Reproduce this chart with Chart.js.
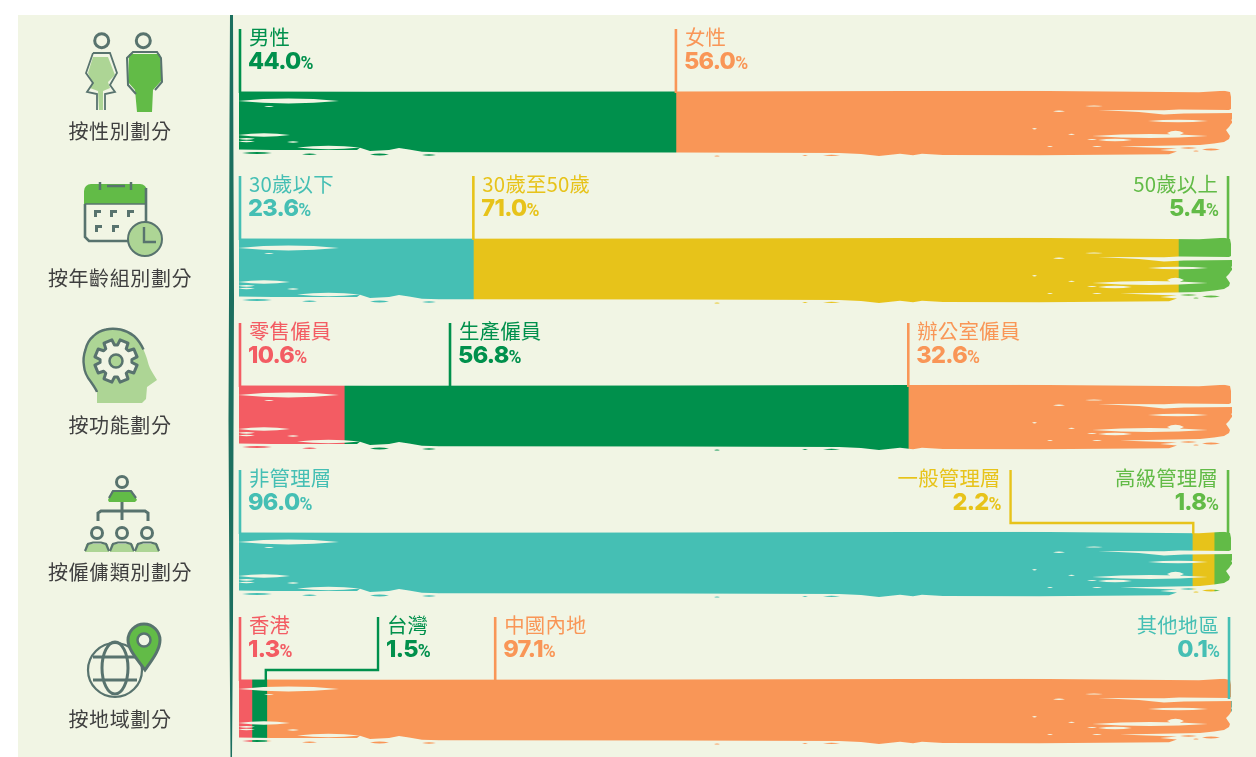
<!DOCTYPE html>
<html lang="zh-Hant">
<head>
<meta charset="UTF-8">
<title>按類別劃分員工</title>
<script src="https://cdnjs.cloudflare.com/ajax/libs/Chart.js/4.4.1/chart.umd.min.js"></script>
<style>
    html, body { margin: 0; padding: 0; background: #fff; overflow: hidden; height: 757px; }
    #panel { position: absolute; left: 18px; top: 15px; width: 1238px; height: 742px; background: #f1f5e4; }
    #myChart { position: absolute; left: 0; top: 0; }
</style>
</head>
<body>
<div id="panel"></div>
<canvas id="myChart" width="1256" height="800"></canvas>
<script>
    // values
    const categories = ['按性別劃分', '按年齡組別劃分', '按功能劃分', '按僱傭類別劃分', '按地域劃分'];
    const genderNames = ['男性', '女性'];
    const genderValues = [44.0, 56.0];
    const ageNames = ['30歲以下', '30歲至50歲', '50歲以上'];
    const ageValues = [23.6, 71.0, 5.4];
    const roleNames = ['零售僱員', '生產僱員', '辦公室僱員'];
    const roleValues = [10.6, 56.8, 32.6];
    const gradeNames = ['非管理層', '一般管理層', '高級管理層'];
    const gradeValues = [96.0, 2.2, 1.8];
    const regionNames = ['香港', '台灣', '中國內地', '其他地區'];
    const regionValues = [1.3, 1.5, 97.1, 0.1];

    const GREEN = '#00904c', ORANGE = '#f99657', TEAL = '#45bfb4', YELLOW = '#e7c31a', LIME = '#62bb47', RED = '#f35c63';
    const PANEL = '#f1f5e4', INK = '#58736e', PALE = '#add595';

    const rows = [
        { names: genderNames, values: genderValues, colors: [GREEN, ORANGE] },
        { names: ageNames, values: ageValues, colors: [TEAL, YELLOW, LIME] },
        { names: roleNames, values: roleValues, colors: [RED, GREEN, ORANGE] },
        { names: gradeNames, values: gradeValues, colors: [TEAL, YELLOW, LIME] },
        { names: regionNames, values: regionValues, colors: [RED, GREEN, ORANGE, TEAL] }
    ];

    // where each label's leader sits, in axis units; to = elbow down to that axis value
    const leaders = [
        [{ at: 0 }, { at: 44 }],
        [{ at: 0 }, { at: 23.6 }, { at: 99.6, right: true }],
        [{ at: 0 }, { at: 21.25 }, { at: 67.4 }],
        [{ at: 0 }, { at: 77.7, right: true, to: 96.1, elbow: -10 }, { at: 99.6, right: true }],
        [{ at: 0 }, { at: 14, to: 2.7, elbow: -10 }, { at: 25.8 }, { at: 99.7, right: true, tail: 18 }]
    ];

    // dry brush outline shared by all five bars (px from the bar's top left)
    const brushEdge = [[-1,-0.5],[130,-0.2],[437,-0.5],[780,-1.2],[900,-0.2],[960,0.2],[985,-1.2],[991,0],[992,5],[992,17],[990,18],
        [940,17.5],[925,18.3],[859,18],[900,20],[925,22.5],[945,21.5],[994,21],[995,22],[993,24],[995,26],[992,28],[994,30],[992,32],
        [990,35],[987,38],[989,41],[991,44],[990,47],[985,50],[975,51.5],[961,53],[935,53.5],[881,54.5],[938,56.5],[921,58],[938,59.5],
        [930,62.3],[800,63.3],[704,63],[683,61.7],[674,63.3],[661,61.7],[640,64],[622,62],[600,61],[437,60.5],[200,60.3],[183,59.7],
        [170,57.5],[160,56],[150,58],[131,59],[121,55.7],[118,58],[60,58],[33,58],[-1,57.5]];
    // [from, to, y, half thickness]
    const brushBits = [[3,33,61,1],[63,78,62.3,.7],[131,150,62.5,1],[183,197,63,.7],[475,481,64,.6],[563,569,63.5,.4],[584,601,63.3,.6],
        [941,958,56,.8],[954,960,59,.5],[963,981,57.5,.9]];
    const brushGaps = [[-1,100,9,2.4],[25,35,14.5,.6],[-1,51,43,1.7],[-1,16,46.8,.9],[-1,16,49.5,.7],[48,60,50,.8],[58,121,55.5,1.7],
        [814,826,19.3,.8],[846,864,14,.6],[909,969,29,1.2],[793,798,36.7,.7],[829,836,42.3,.6],[853,969,44,1.9],[928,945,41,2.3],
        [859,893,48,1.3],[848,858,47.5,.6],[808,814,54.5,.5],[853,863,54.5,.6]];

    function lens(ctx, x, y, b) {
        ctx.moveTo(x + b[0], y + b[2]);
        ctx.quadraticCurveTo(x + (b[0] + b[1]) / 2, y + b[2] - b[3] * 2, x + b[1], y + b[2]);
        ctx.quadraticCurveTo(x + (b[0] + b[1]) / 2, y + b[2] + b[3] * 2, x + b[0], y + b[2]);
        ctx.closePath();
    }

    const brushMask = {
        id: 'brushMask',
        afterDatasetsDraw(chart) {
            const ctx = chart.ctx, sx = chart.scales.x, sy = chart.scales.y;
            const left = sx.getPixelForValue(0);
            ctx.save();
            ctx.fillStyle = PANEL;
            categories.forEach(function (c, i) {
                const top = sy.getPixelForValue(i) - 32;
                ctx.beginPath();
                ctx.rect(left - 2, top - 3, 1004, 71);
                brushEdge.forEach(function (p, k) {
                    if (k === 0) ctx.moveTo(left + p[0], top + p[1]);
                    else ctx.lineTo(left + p[0], top + p[1]);
                });
                ctx.closePath();
                brushBits.forEach(function (b) { lens(ctx, left, top, b); });
                ctx.fill('evenodd');
                ctx.beginPath();
                brushGaps.forEach(function (b) { lens(ctx, left, top, b); });
                ctx.fill();
            });
            ctx.restore();
        }
    };

    function line(ctx, pts, color, w) {
        ctx.beginPath();
        pts.forEach(function (p, k) { if (k === 0) ctx.moveTo(p[0], p[1]); else ctx.lineTo(p[0], p[1]); });
        ctx.strokeStyle = color;
        ctx.lineWidth = w;
        ctx.stroke();
    }

    function shape(ctx, pts, color) {
        ctx.beginPath();
        pts.forEach(function (p, k) { if (k === 0) ctx.moveTo(p[0], p[1]); else ctx.lineTo(p[0], p[1]); });
        ctx.closePath();
        ctx.fillStyle = color;
        ctx.fill();
    }

    function ring(ctx, x, y, r, stroke, w, fill) {
        ctx.beginPath();
        ctx.arc(x, y, r, 0, Math.PI * 2);
        if (fill) { ctx.fillStyle = fill; ctx.fill(); }
        if (stroke) { ctx.strokeStyle = stroke; ctx.lineWidth = w; ctx.stroke(); }
    }

    function drawPeople(ctx) {
        ring(ctx, 101.7, 40.7, 7, INK, 3);
        shape(ctx, [[93,57],[108,57],[115,75],[108,82],[110,88],[103,91],[103,110],[99,110],[98,91],[90,88],[92,82],[88,73]], PALE);
        line(ctx, [[93,53],[86,73],[93,83],[87,92],[97,94],[97,110]], INK, 1.8);
        line(ctx, [[93,53],[110,53],[117,73],[110,85],[115,92],[105,94],[105,110]], INK, 1.8);
        ring(ctx, 143.3, 40.7, 7, INK, 3);
        shape(ctx, [[129,54],[160,54],[162,80],[153,90],[152,112],[137,112],[135,90],[128,82]], LIME);
        line(ctx, [[136,94],[128,85],[127,58],[133,52],[157,52],[161,58],[162,82],[155,90]], INK, 2);
    }

    function drawCalendar(ctx) {
        ctx.beginPath();
        ctx.roundRect(84, 184, 63, 20, [7, 7, 0, 0]);
        ctx.fillStyle = LIME;
        ctx.fill();
        line(ctx, [[100,182],[100,190]], INK, 2.5);
        line(ctx, [[131,182],[131,190]], INK, 2.5);
        line(ctx, [[107,186],[125,186]], INK, 2.5);
        line(ctx, [[85,204],[85,237],[89,241],[130,241]], INK, 2.6);
        line(ctx, [[146,188],[146,222]], INK, 2.6);
        line(ctx, [[85,204],[146,204]], INK, 1.5);
        [[97,213],[113,213],[130,213],[98,228],[115,228]].forEach(function (d) {
            shape(ctx, [[d[0] - 3,d[1] - 3],[d[0] + 4,d[1] - 3],[d[0] + 4,d[1]],[d[0],d[1]],[d[0],d[1] + 4],[d[0] - 3,d[1] + 4]], INK);
        });
        ring(ctx, 145, 239, 17, INK, 2, PALE);
        line(ctx, [[144,227],[144,242],[156,242]], INK, 2.4);
    }

    function drawHead(ctx) {
        const pts = [[97,390],[85,374],[83,358],[88,341],[99,331],[113,328],[128,331],[140,341],[147,358],[149,367],[157,380]];
        ctx.beginPath();
        ctx.moveTo(97, 403);
        ctx.lineTo(97, 390);
        for (let k = 1; k < pts.length - 1; k++) {
            ctx.quadraticCurveTo(pts[k][0], pts[k][1], (pts[k][0] + pts[k + 1][0]) / 2, (pts[k][1] + pts[k + 1][1]) / 2);
        }
        ctx.lineTo(157, 380);
        ctx.lineTo(147, 387);
        ctx.lineTo(146, 399);
        ctx.lineTo(142, 403);
        ctx.closePath();
        ctx.fillStyle = PALE;
        ctx.fill();
        ctx.beginPath();
        ctx.moveTo(97, 392);
        for (let k = 0; k < pts.length - 3; k++) {
            ctx.quadraticCurveTo(pts[k][0] - 0.5, pts[k][1], (pts[k][0] + pts[k + 1][0]) / 2, (pts[k][1] + pts[k + 1][1]) / 2);
        }
        ctx.strokeStyle = INK;
        ctx.lineWidth = 2.4;
        ctx.stroke();
        // gear with eight square teeth
        ctx.beginPath();
        for (let k = 0; k < 8; k++) {
            const a = k * Math.PI / 4 + Math.PI / 8;
            [[16, -0.3], [21.5, -0.2], [21.5, 0.2], [16, 0.3]].forEach(function (q, n) {
                const x = 116 + q[0] * Math.cos(a + q[1]), y = 361 + q[0] * Math.sin(a + q[1]);
                if (k === 0 && n === 0) ctx.moveTo(x, y); else ctx.lineTo(x, y);
            });
        }
        ctx.closePath();
        ctx.fillStyle = PANEL;
        ctx.fill();
        ctx.strokeStyle = INK;
        ctx.lineWidth = 3;
        ctx.lineJoin = 'round';
        ctx.stroke();
        ring(ctx, 116, 361, 6.5, INK, 2.5, PALE);
    }

    function drawOrg(ctx) {
        ring(ctx, 122, 482, 5.5, INK, 3);
        shape(ctx, [[112,491],[132,491],[137,500],[135,502],[109,502],[108,500]], LIME);
        line(ctx, [[109,498],[113,491],[131,491],[136,498]], INK, 2.2);
        line(ctx, [[122,502],[122,520]], INK, 3);
        line(ctx, [[98,521],[98,513],[101,511],[145,511],[148,513],[148,521]], INK, 3);
        [97, 122, 147].forEach(function (x) {
            ring(ctx, x, 533, 5.5, INK, 3);
            shape(ctx, [[x - 11,544],[x + 11,544],[x + 12,552],[x - 12,552]], PALE);
            line(ctx, [[x - 12,551],[x - 9,544],[x - 4,542.5],[x + 4,542.5],[x + 9,544],[x + 12,551]], INK, 2.2);
        });
    }

    function drawGlobe(ctx) {
        ring(ctx, 115, 670, 27, INK, 2.2);
        line(ctx, [[93,657],[137,657]], INK, 3);
        line(ctx, [[93,680],[137,680]], INK, 3);
        ctx.beginPath();
        ctx.ellipse(115, 668, 13, 26, 0, 0, Math.PI * 2);
        ctx.strokeStyle = INK;
        ctx.lineWidth = 3;
        ctx.stroke();
        ctx.beginPath();
        ctx.moveTo(145, 670);
        ctx.bezierCurveTo(138, 660, 128, 650, 128, 640);
        ctx.arc(144, 640, 16, Math.PI, 0);
        ctx.bezierCurveTo(160, 650, 152, 660, 145, 670);
        ctx.closePath();
        ctx.fillStyle = LIME;
        ctx.fill();
        ctx.strokeStyle = INK;
        ctx.lineWidth = 3;
        ctx.stroke();
        ring(ctx, 144, 640, 6.5, INK, 2.5, PANEL);
    }

    const sidePanel = {
        id: 'sidePanel',
        afterDraw(chart) {
            const ctx = chart.ctx, sx = chart.scales.x, sy = chart.scales.y;
            ctx.save();
            // rough rule between icons and bars
            shape(ctx, [[230,15],[233,15],[233.5,180],[234,300],[233.5,430],[233,620],[232,757],[230.5,757],[229.5,620],[228.5,420],[229,300],[229.5,120]], '#1c6f5f');

            [drawPeople, drawCalendar, drawHead, drawOrg, drawGlobe].forEach(function (f) { ctx.save(); f(ctx); ctx.restore(); });

            categories.forEach(function (c, i) {
                const top = sy.getPixelForValue(i) - 32;
                ctx.font = '400 20px "Noto Sans CJK TC"';
                ctx.letterSpacing = '0.6px';
                ctx.fillStyle = '#3f3f3f';
                ctx.textAlign = 'center';
                ctx.fillText(c, 120, top + 46.5);
                ctx.textAlign = 'left';

                rows[i].names.forEach(function (name, k) {
                    const spot = leaders[i][k], color = rows[i].colors[k];
                    const x = sx.getPixelForValue(spot.at) + (spot.at === 0 ? 1 : 0);
                    const y0 = top - 63;
                    if (spot.to !== undefined) {
                        const x2 = sx.getPixelForValue(spot.to);
                        line(ctx, [[x, y0], [x, top + spot.elbow], [x2, top + spot.elbow], [x2, top + 1]], color, 2.4);
                    } else {
                        line(ctx, [[x, y0], [x, top + 1 + (spot.tail || 0)]], color, 2.6);
                    }
                    const num = rows[i].values[k].toFixed(1);
                    ctx.fillStyle = color;
                    ctx.font = '400 20.4px "Noto Sans CJK TC"';
                    ctx.letterSpacing = '0.2px';
                    const nameW = ctx.measureText(name).width;
                    ctx.fillText(name, spot.right ? x - 10 - nameW : x + 9, top - 47.5);
                    ctx.font = '800 23.5px Inter';
                    ctx.letterSpacing = '-0.7px';
                    const numW = ctx.measureText(num).width;
                    ctx.font = '700 17.5px Roboto';
                    ctx.letterSpacing = '0px';
                    const pctW = ctx.measureText('%').width;
                    const nx = spot.right ? x - 9 - numW - pctW : x + 8;
                    ctx.fillText('%', nx + numW, top - 23);
                    ctx.font = '800 23.5px Inter';
                    ctx.letterSpacing = '-0.7px';
                    ctx.fillText(num, nx, top - 23);
                    ctx.letterSpacing = '0px';
                });
            });
            ctx.restore();
        }
    };

    // one stacked dataset per slice position, rows without that slice stay empty
    const datasets = [0, 1, 2, 3].map(function (k) {
        return {
            data: rows.map(function (r) { return r.values[k] === undefined ? null : r.values[k]; }),
            backgroundColor: rows.map(function (r) { return r.colors[k] || 'transparent'; }),
            borderWidth: 0,
            barThickness: 66
        };
    });

    new Chart(document.getElementById('myChart'), {
        type: 'bar',
        data: { labels: categories, datasets: datasets },
        plugins: [brushMask, sidePanel],
        options: {
            indexAxis: 'y',
            responsive: false,
            animation: false,
            layout: { padding: { left: 239, right: 24, top: 50.5, bottom: 14.5 } },
            plugins: { legend: { display: false }, tooltip: { enabled: false } },
            scales: {
                x: { stacked: true, min: 0, max: 100, display: false },
                y: { stacked: true, display: false }
            }
        }
    });
</script>
</body>
</html>
